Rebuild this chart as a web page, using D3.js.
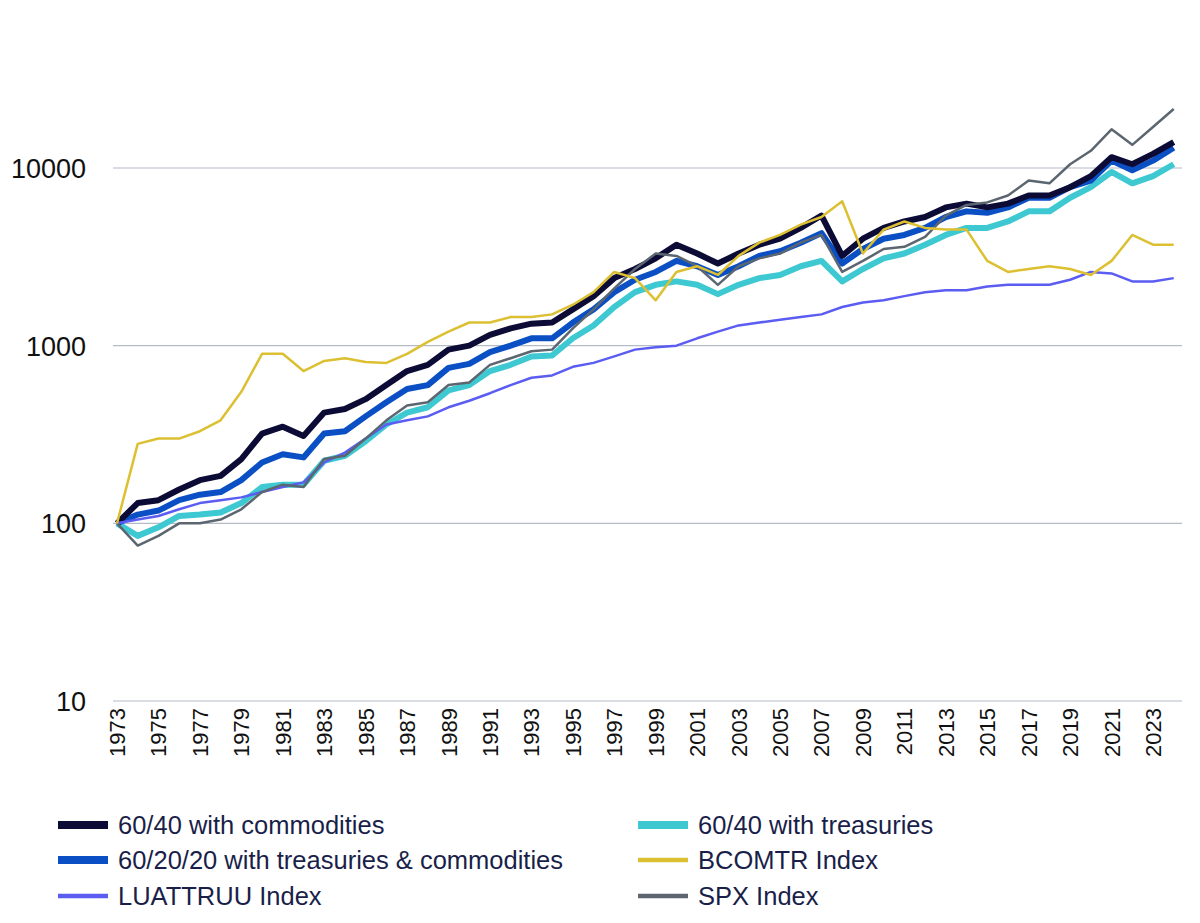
<!DOCTYPE html><html><head><meta charset="utf-8"><script src="https://cdn.jsdelivr.net/npm/d3@7"></script>
<style>body{margin:0;background:#fff}text{font-family:"Liberation Sans",Arial,sans-serif}</style></head><body><svg id="c" width="1200" height="923"></svg><script>
const years=d3.range(1973,2025);
const c6040=[100,130,135,155,175,185,230,320,350,310,420,440,500,600,720,780,950,1000,1150,1250,1330,1350,1600,1900,2400,2700,3100,3700,3300,2900,3300,3700,4000,4600,5400,3200,4000,4600,5000,5300,6000,6300,6000,6300,7000,7000,7800,9000,11500,10500,12000,14000];
const t6040=[100,85,95,110,112,115,130,160,165,165,225,240,290,360,420,450,560,600,720,780,870,880,1100,1300,1650,2000,2200,2300,2200,1950,2200,2400,2500,2800,3000,2300,2700,3100,3300,3700,4200,4600,4600,5000,5700,5700,6800,7800,9500,8200,9000,10500];
const m602020=[100,112,118,135,145,150,175,220,245,235,320,330,400,480,570,600,750,790,920,1000,1100,1100,1350,1600,2000,2350,2600,3000,2800,2500,2800,3200,3400,3800,4300,2900,3500,4000,4200,4600,5300,5700,5600,6000,6800,6800,7800,8500,11000,9700,11000,13000];
const bcom=[100,280,300,300,330,380,550,900,900,720,820,850,810,800,900,1050,1200,1350,1350,1450,1450,1500,1700,2000,2600,2400,1800,2600,2800,2500,3200,3800,4200,4800,5300,6500,3300,4500,5000,4600,4500,4500,3000,2600,2700,2800,2700,2500,3000,4200,3700,3700];
const luat=[100,105,110,120,130,135,140,150,160,170,220,250,300,360,380,400,450,490,540,600,660,680,760,800,870,950,980,1000,1100,1200,1300,1350,1400,1450,1500,1650,1750,1800,1900,2000,2050,2050,2150,2200,2200,2200,2350,2600,2550,2300,2300,2400];
const spx=[100,75,85,100,100,105,120,150,165,160,230,240,300,380,460,480,600,620,780,850,930,950,1250,1600,2100,2700,3300,3200,2800,2200,2800,3100,3300,3800,4200,2600,3000,3500,3600,4100,5400,6200,6400,7000,8500,8200,10500,12500,16500,13500,17000,21500];
const xTicks=d3.range(1973,2024,2);
const yTicks=[10,100,1000,10000];
const series=[
 {name:"60/40 with treasuries",v:t6040,c:"#3ec8d2",w:6},
 {name:"60/20/20 with treasuries & commodities",v:m602020,c:"#0a4fc4",w:6},
 {name:"60/40 with commodities",v:c6040,c:"#0b0b36",w:6},
 {name:"BCOMTR Index",v:bcom,c:"#dcc032",w:2.5},
 {name:"LUATTRUU Index",v:luat,c:"#5b5cf2",w:2.5},
 {name:"SPX Index",v:spx,c:"#5c6670",w:2.5}];
const svg=d3.select("#c");
const x=d3.scaleLinear().domain([1973,2024.4]).range([117,1182]);
const y=d3.scaleLog().domain([10,10000]).range([701,168]);
svg.append("g").selectAll("line").data(yTicks.slice(1)).join("line").attr("x1",113).attr("x2",1182).attr("y1",d=>y(d)).attr("y2",d=>y(d)).attr("stroke","#b4bcc8").attr("stroke-width",1.2);
svg.append("line").attr("x1",113).attr("x2",1182).attr("y1",701).attr("y2",701).attr("stroke","#b4bcc8").attr("stroke-width",1.2);
svg.append("g").selectAll("text").data(yTicks).join("text").attr("x",86).attr("y",d=>y(d)+10).attr("text-anchor","end").attr("font-size",27).attr("fill","#111").text(d=>d);
svg.append("g").selectAll("text").data(xTicks).join("text").attr("transform",d=>`translate(${x(d)+8},708) rotate(-90)`).attr("text-anchor","end").attr("font-size",22).attr("fill","#111").text(d=>d);
const line=d3.line().x((d,i)=>x(years[i])).y(d=>y(d));
const order=[0,1,2,4,5,3];
svg.append("g").selectAll("path").data(order.map(i=>series[i])).join("path").attr("d",s=>line(s.v)).attr("fill","none").attr("stroke",s=>s.c).attr("stroke-width",s=>s.w).attr("stroke-linejoin","round");
const leg=[[2,58,825],[0,638,825],[1,58,860],[3,638,860],[4,58,896],[5,638,896]];
const lg=svg.append("g").selectAll("g").data(leg).join("g");
lg.append("line").attr("x1",d=>d[1]).attr("x2",d=>d[1]+50).attr("y1",d=>d[2]).attr("y2",d=>d[2]).attr("stroke",d=>series[d[0]].c).attr("stroke-width",d=>series[d[0]].w+2);
lg.append("text").attr("x",d=>d[1]+60).attr("y",d=>d[2]+9).attr("font-size",25.5).attr("fill","#1a1f4a").text(d=>series[d[0]].name);
</script></body></html>
